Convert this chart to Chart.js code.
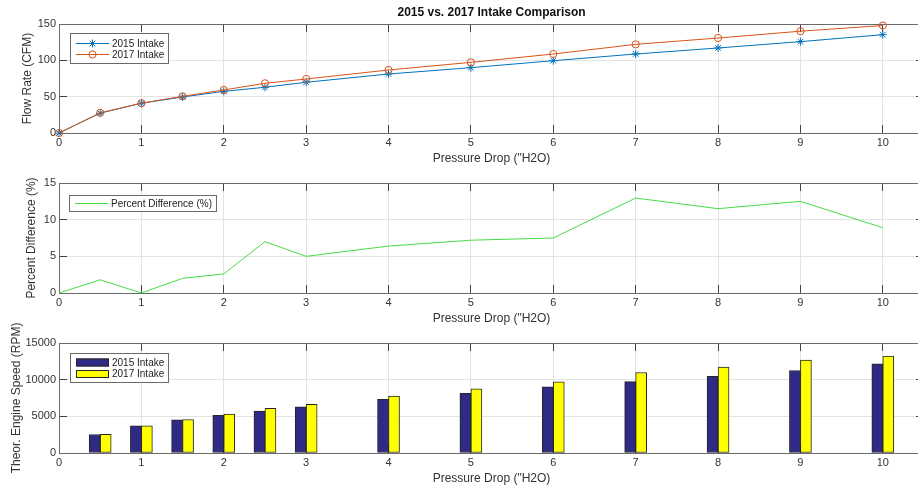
<!DOCTYPE html>
<html><head><meta charset="utf-8">
<script src="https://cdn.jsdelivr.net/npm/chart.js@4"></script>
<style>
html,body{margin:0;padding:0;background:#fff;overflow:hidden;}
#wrap{position:relative;width:918px;height:487px;overflow:hidden;background:#fff;}
canvas{position:absolute;left:0;}
</style></head><body>
<div id="wrap">
<canvas id="c1" width="924" height="170" style="top:0px"></canvas>
<canvas id="c2" width="924" height="170" style="top:160px"></canvas>
<canvas id="c3" width="924" height="170" style="top:320px"></canvas>
</div>
<script>
// ---- data ----
const pressure = [0, 0.5, 1, 1.5, 2, 2.5, 3, 4, 5, 6, 7, 8, 9, 10];
const flow2015 = [0, 27.3, 41, 49.5, 57.3, 62.9, 69.8, 81.2, 89.9, 99.5, 108.7, 117, 125.7, 135.3];
const flow2017 = [0, 27.8, 41, 50.5, 59.2, 68.4, 74.3, 86.7, 97.2, 108.7, 122, 130.7, 140.1, 147.9];
const pctDiff  = [0, 1.8, 0, 2.0, 2.6, 7.0, 5.0, 6.4, 7.2, 7.5, 12.95, 11.5, 12.5, 8.9];
const rpm2015  = [0, 2520, 3700, 4520, 5120, 5720, 6310, 7320, 8140, 9010, 9740, 10470, 11250, 12170];
const rpm2017  = [0, 2540, 3710, 4570, 5300, 6080, 6630, 7770, 8740, 9700, 10980, 11710, 12670, 13220];
const xTicks    = [0, 1, 2, 3, 4, 5, 6, 7, 8, 9, 10];
const flowTicks = [0, 50, 100, 150];
const pctTicks  = [0, 5, 10, 15];
const rpmTicks  = [0, 5000, 10000, 15000];

const X_MAX = 10.5;
const GRID = '#e3e3e3', TICK = '#444', BORDER = '#6a6a6a', TXT = '#333';
Chart.defaults.font.family = "'Liberation Sans', Arial, Helvetica, sans-serif";

const pts = ys => pressure.map((x, i) => ({x: x, y: ys[i]}));

function drawMarker(ctx, style, r, cx, cy) {
  ctx.beginPath();
  if (style === 'star') {
    const d = r * Math.SQRT1_2;
    ctx.moveTo(cx - r, cy); ctx.lineTo(cx + r, cy);
    ctx.moveTo(cx, cy - r); ctx.lineTo(cx, cy + r);
    ctx.moveTo(cx - d, cy - d); ctx.lineTo(cx + d, cy + d);
    ctx.moveTo(cx - d, cy + d); ctx.lineTo(cx + d, cy - d);
  } else if (style === 'circle') {
    ctx.arc(cx, cy, r, 0, Math.PI * 2);
  }
  ctx.stroke();
}

const boxLegend = {
  id: 'boxLegend',
  afterDraw(chart, args, o) {
    if (!o || !o.w) return;
    const {ctx, chartArea} = chart;
    const x0 = Math.round(chartArea.left + o.dx), y0 = Math.round(chartArea.top + o.dy);
    ctx.save();
    ctx.fillStyle = '#fff';
    ctx.fillRect(x0, y0, o.w, o.h);
    ctx.strokeStyle = BORDER; ctx.lineWidth = 1;
    ctx.strokeRect(x0 + 0.5, y0 + 0.5, o.w, o.h);
    chart.data.datasets.forEach((ds, i) => {
      const cy = y0 + o.rows[i];
      if (o.kind === 'line') {
        ctx.strokeStyle = ds.borderColor; ctx.lineWidth = 1;
        ctx.beginPath(); ctx.moveTo(x0 + 6, cy); ctx.lineTo(x0 + 39, cy); ctx.stroke();
        if (ds.pointStyle && ds.pointRadius) drawMarker(ctx, ds.pointStyle, ds.pointRadius, x0 + 22.5, cy);
      } else {
        ctx.fillStyle = ds.backgroundColor;
        ctx.fillRect(x0 + 6, cy - 4, 33, 8);
        ctx.strokeStyle = ds.borderColor; ctx.lineWidth = 1;
        ctx.strokeRect(x0 + 6.5, cy - 3.5, 32, 7);
      }
      ctx.fillStyle = '#222';
      ctx.font = "10px 'Liberation Sans', Arial, sans-serif";
      ctx.textBaseline = 'middle'; ctx.textAlign = 'left';
      ctx.fillText(ds.label, x0 + 42, cy + 0.5);
    });
    ctx.restore();
  }
};

function scalesFor(cfg) {
  const setTicks = arr => s => { s.ticks = arr.map(v => ({value: v})); };
  return {
    x: {
      type: 'linear', position: 'bottom', min: 0, max: X_MAX, offset: false,
      afterBuildTicks: setTicks(xTicks),
      afterFit: s => { s.height = 37; },
      grid: {color: GRID, tickColor: TICK, tickLength: -8, offset: false, lineWidth: 1},
      border: {color: BORDER, width: 1},
      ticks: {font: {size: 11}, color: TXT, padding: 11.4, maxRotation: 0, autoSkip: false, callback: v => String(v)},
      title: {display: true, text: 'Pressure Drop ("H2O)', font: {size: 12}, color: TXT, padding: {top: 0, bottom: 4.3}}
    },
    xTop: {
      type: 'linear', position: 'top', min: 0, max: X_MAX, offset: false,
      afterBuildTicks: setTicks(xTicks),
      afterFit: s => { s.height = cfg.topH; },
      grid: {drawOnChartArea: false, tickColor: TICK, tickLength: -8, offset: false},
      border: {color: BORDER, width: 1},
      ticks: {display: false},
      title: cfg.title ? {display: true, text: cfg.title, font: {size: 12, weight: 'bold'}, color: '#111', padding: {top: 5.3, bottom: 0}} : {display: false}
    },
    y: {
      type: 'linear', position: 'left', min: 0, max: cfg.yMax,
      afterBuildTicks: setTicks(cfg.yTicks),
      afterFit: s => { s.width = 59; },
      grid: {color: GRID, tickColor: TICK, tickLength: -8, lineWidth: 1},
      border: {color: BORDER, width: 1},
      ticks: {font: {size: 11}, color: TXT, padding: 11, callback: v => String(v)},
      title: {display: true, text: cfg.yTitle, font: {size: 12}, color: TXT, padding: {top: cfg.yTitlePad, bottom: 0}}
    },
    yR: {
      type: 'linear', position: 'right', min: 0, max: cfg.yMax,
      afterBuildTicks: setTicks(cfg.yTicks),
      afterFit: s => { s.width = 0; },
      grid: {drawOnChartArea: false, tickColor: TICK, tickLength: -8},
      border: {color: BORDER, width: 1},
      ticks: {display: false}
    }
  };
}

const common = {
  responsive: false, animation: false, devicePixelRatio: 1,
  layout: {padding: 0, autoPadding: false},
  events: []
};

// ---- chart 1: flow rate ----
new Chart(document.getElementById('c1'), {
  type: 'line',
  data: {datasets: [
    {label: '2015 Intake', data: pts(flow2015), borderColor: '#0072BD', borderWidth: 1,
     pointStyle: 'star', pointRadius: 4, pointBorderColor: '#0072BD', pointBackgroundColor: 'rgba(0,0,0,0)',
     pointBorderWidth: 1, tension: 0, clip: false, order: 1},
    {label: '2017 Intake', data: pts(flow2017), borderColor: '#D95319', borderWidth: 1,
     pointStyle: 'circle', pointRadius: 3.6, pointBorderColor: '#D95319', pointBackgroundColor: 'rgba(0,0,0,0)',
     pointBorderWidth: 1, tension: 0, clip: false, order: 0}
  ]},
  options: Object.assign({}, common, {
    scales: scalesFor({topH: 24, title: '2015 vs. 2017 Intake Comparison', yMax: 150, yTicks: flowTicks,
                       yTitle: 'Flow Rate (CFM)', yTitlePad: 20.8}),
    plugins: {legend: {display: false}, tooltip: {enabled: false},
              boxLegend: {kind: 'line', dx: 10.5, dy: 9, w: 98, h: 30, rows: [10.5, 21.5]}}
  }),
  plugins: [boxLegend]
});

// ---- chart 2: percent difference ----
new Chart(document.getElementById('c2'), {
  type: 'line',
  data: {datasets: [
    {label: 'Percent Difference (%)', data: pts(pctDiff), borderColor: '#47dc47', borderWidth: 1,
     pointRadius: 0, tension: 0, clip: false}
  ]},
  options: Object.assign({}, common, {
    scales: scalesFor({topH: 23, title: null, yMax: 15, yTicks: pctTicks,
                       yTitle: 'Percent Difference (%)', yTitlePad: 24.8}),
    plugins: {legend: {display: false}, tooltip: {enabled: false},
              boxLegend: {kind: 'line', dx: 10, dy: 12, w: 147, h: 16, rows: [8.5]}}
  }),
  plugins: [boxLegend]
});

// ---- chart 3: engine speed ----
new Chart(document.getElementById('c3'), {
  type: 'bar',
  data: {datasets: [
    {label: '2015 Intake', data: pts(rpm2015), backgroundColor: '#2f2a84', borderColor: '#262626',
     borderWidth: 1, borderSkipped: false, barThickness: 11},
    {label: '2017 Intake', data: pts(rpm2017), backgroundColor: '#ffff00', borderColor: '#262626',
     borderWidth: 1, borderSkipped: false, barThickness: 11}
  ]},
  options: Object.assign({}, common, {
    scales: scalesFor({topH: 23, title: null, yMax: 15000, yTicks: rpmTicks,
                       yTitle: 'Theor. Engine Speed (RPM)', yTitlePad: 9.8}),
    plugins: {legend: {display: false}, tooltip: {enabled: false},
              boxLegend: {kind: 'bar', dx: 10.5, dy: 10, w: 98, h: 29, rows: [9.5, 21]}}
  }),
  plugins: [boxLegend]
});
</script>
</body></html>
